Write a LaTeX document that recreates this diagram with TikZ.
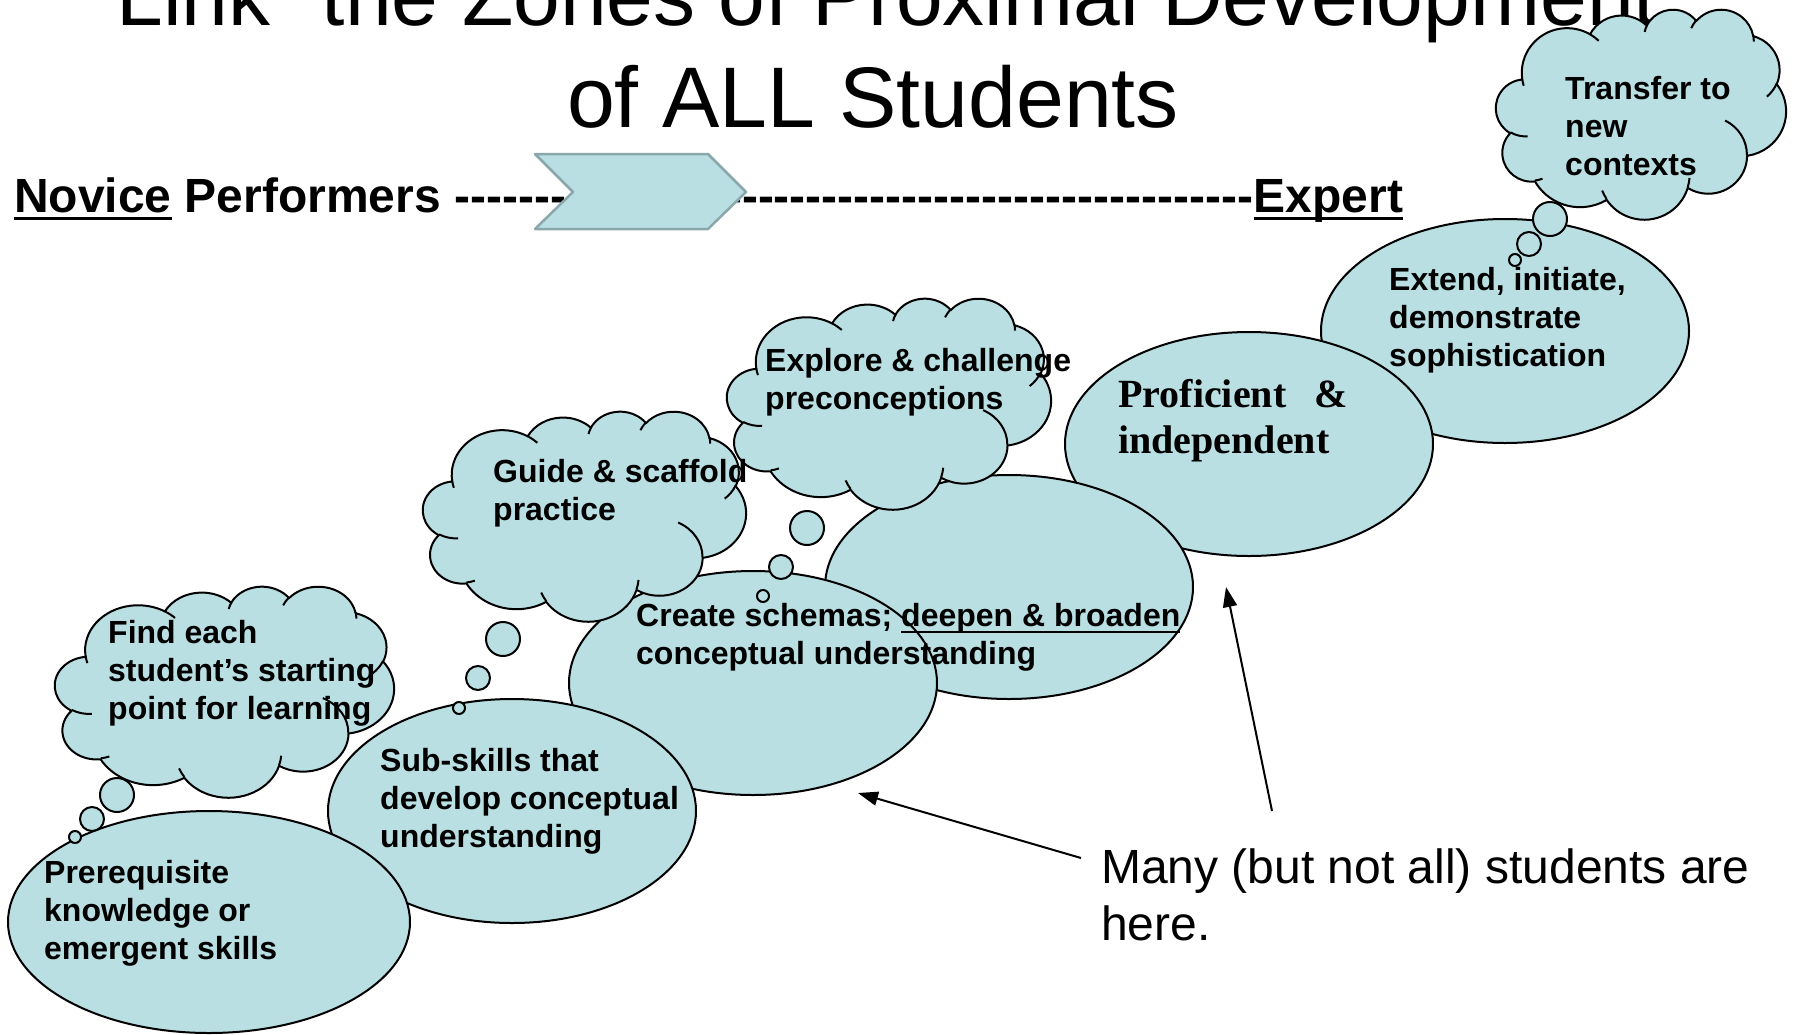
\documentclass[tikz,border=0pt]{standalone}
\usepackage{fontspec}
\setmainfont{Liberation Sans}
\newfontfamily\serifface{Liberation Serif}
\usetikzlibrary{shapes.geometric,arrows.meta}

\definecolor{bubble}{RGB}{185,223,227}
\definecolor{chevedge}{RGB}{138,168,171}

% multi-line text whose reference point is the first baseline
\newcommand\lines[2][l]{\begin{tabular}[t]{@{}#1@{}}#2\end{tabular}}
% thick underline: raise, thickness, text
\newsavebox\ulbox
\newcommand\undl[3]{\sbox\ulbox{#3}\rlap{\rule[#1]{\wd\ulbox}{#2}}\usebox\ulbox}
% a row of separate hyphens
\newcommand\hyphenrow[1]{\foreach \k in {1,...,#1}{\mbox{-}}}

\tikzset{
  blob/.style={ellipse, draw=black, fill=bubble, line width=2pt, inner sep=0pt,
    minimum width=368pt, minimum height=224pt},
  puff/.style={draw=black, fill=bubble, line width=2pt, line join=round},
  hook/.style={draw=black, line width=2pt},
  boxtext/.style={anchor=base west, inner sep=0pt, font=\fontsize{32}{38}\selectfont\bfseries},
  pointer/.style={draw=black, line width=2pt, -{Triangle[length=20pt,width=14pt]}},
  % elliptic arc given by radii and visual start/sweep angles
  vis arc/.code args={#1/#2/#3/#4}{%
    \pgfmathsetmacro\cldA{atan2((#1)*sin(#3),(#2)*cos(#3))}%
    \pgfmathsetmacro\cldB{atan2((#1)*sin((#3)+(#4)),(#2)*cos((#3)+(#4)))}%
    \pgfmathsetmacro\cldD{mod(\cldB-(\cldA)+720,360)}%
    \edef\cldtmp{\noexpand\pgfkeysalso{x radius=#1,y radius=#2,start angle=\cldA,delta angle=\cldD}}%
    \cldtmp}
}

% cloud outline with its inner strokes; left, top, width, height
\newcommand\thoughtcloud[4]{%
  \begin{scope}[xshift=#1pt, yshift=-#2pt, x={(#3pt/432,0pt)}, y={(0pt,-#4pt/432)}]
    \filldraw[puff] (39.00,143.70)
      arc[vis arc=67.53/91.90/-190.48748/123.78053]
      arc[vis arc=53.33/72.67/-144.10238/89.94523]
      arc[vis arc=43.65/59.45/-145.80792/99.72302]
      arc[vis arc=48.57/65.95/-130.98607/117.24173]
      arc[vis arc=53.33/72.73/-78.70888/109.02692]
      arc[vis arc=67.75/92.20/-46.26725/130.269]
      arc[vis arc=57.85/78.67/0.62502/114.03333]
      arc[vis arc=67.52/92.15/22.4516/115.17255]
      arc[vis arc=77.20/105.43/66.24263/75.71102]
      arc[vis arc=43.60/59.18/-274.94208/146.73557]
      arc[vis arc=43.45/59.45/-246.8285/152.51885]
      -- cycle;
    \draw[hook]
      (46.93,261.77) arc[vis arc=43.45/59.45/86.742/26.4295]
      (69.28,348.99) arc[vis arc=43.60/59.18/73.61047/11.44747]
      (164.78,390.90) arc[vis arc=67.52/92.15/137.62415/14.0811]
      (288.27,347.51) arc[vis arc=67.52/92.15/6.45327/15.99835]
      (341.29,229.54) arc[vis arc=57.85/78.67/-70.29235/70.91737]
      (417.98,153.54) arc[vis arc=53.33/72.73/30.31803/27.7515]
      (383.24,54.26) arc[vis arc=48.57/65.95/-13.74433/14.8589]
      (290.78,39.52) arc[vis arc=48.57/65.95/-149.18145/18.19537]
      (221.41,47.20) arc[vis arc=43.65/59.45/-163.49427/17.68635]
      (140.00,51.92) arc[vis arc=67.53/91.90/-66.70695/12.31935]
      (41.27,157.89) arc[vis arc=67.53/91.90/157.65435/11.85817];
  \end{scope}}

\begin{document}
\begin{tikzpicture}[x=1pt, y=-1pt]
  \useasboundingbox (0,0) rectangle (1796,1034);
  \clip (0,0) rectangle (1796,1034);
  \fill[white] (0,0) rectangle (1796,1034);

  % heading
  \node[anchor=base, inner sep=0pt, font=\fontsize{84}{102}\selectfont] (title) at (873,25)
    {\lines[c]{“Link” the Zones of Proximal Development\\\fontsize{86}{102}\selectfont of ALL Students}};

  % novice-to-expert scale
  \node[anchor=base west, inner sep=0pt, font=\fontsize{48}{57}\selectfont\bfseries] (scale) at (14,212)
    {\undl{-8pt}{3.5pt}{Novice} Performers \hyphenrow{50}\undl{-8pt}{3.5pt}{Expert}};
  \filldraw[fill=bubble, draw=chevedge, line width=2.5pt, line join=round]
    (535,154) -- (708,154) -- (746,192) -- (708,229) -- (535,229) -- (573,192) -- cycle;

  % stages, upper ones first so lower ones overlap them
  \node[blob] (extend)     at (1505,331) {};
  \node[blob] (proficient) at (1249,444) {};
  \node[blob] (deepen)     at (1009,587) {};
  \node[blob] (schemas)    at (753,683) {};
  \node[blob] (subskills)  at (512,811) {};
  \node[blob, minimum width=402pt, minimum height=222pt] (prereq) at (209,922) {};

  % thought clouds with their trailing bubbles
  \thoughtcloud{55}{586}{339}{211}
  \filldraw[puff] (117,795) circle[radius=17] (92,819) circle[radius=12] (75,837) circle[radius=6];
  \thoughtcloud{423}{411}{323}{210}
  \filldraw[puff] (503,639) circle[radius=17] (478,678) circle[radius=12] (459,708) circle[radius=6];
  \thoughtcloud{727}{298}{324}{211}
  \filldraw[puff] (807,528) circle[radius=17] (781,567) circle[radius=12] (763,596) circle[radius=6];
  \thoughtcloud{1496}{9}{290}{210}
  \filldraw[puff] (1550,219) circle[radius=17] (1529,244) circle[radius=12] (1515,260) circle[radius=6];

  % labels
  \node[boxtext] (prereqtext) at (44,883) {\lines{Prerequisite\\knowledge or\\emergent skills}};
  \node[boxtext] (subtext) at (380,771) {\lines{Sub-skills that\\develop conceptual\\understanding}};
  \node[boxtext] (schematext) at (636,626)
    {\lines{Create schemas; \undl{-7pt}{2.5pt}{deepen \& broaden}\\conceptual understanding}};
  \node[anchor=base west, inner sep=0pt, font=\fontsize{40}{46}\selectfont\serifface\bfseries] (proftext) at (1118,407)
    {\lines{Proficient\hspace{28pt}\&\\independent}};
  \node[boxtext] (extendtext) at (1389,290) {\lines{Extend, initiate,\\demonstrate\\sophistication}};
  \node[boxtext] (findtext) at (108,643) {\lines{Find each\\student’s starting\\point for learning}};
  \node[boxtext] (guidetext) at (493,482) {\lines{Guide \& scaffold\\practice}};
  \node[boxtext] (exploretext) at (765,371) {\lines{Explore \& challenge\\preconceptions}};
  \node[boxtext] (transfertext) at (1565,99) {\lines{Transfer to\\new\\contexts}};

  % note with its two pointers
  \node[anchor=base west, inner sep=0pt, font=\fontsize{48}{57}\selectfont] (many) at (1101,883)
    {\lines{Many (but not all) students are\\here.}};
  \coordinate (tailA) at (1081,858);
  \coordinate (tipA) at (858,793);
  \coordinate (tailB) at (1272,811);
  \coordinate (tipB) at (1226,587);
  \draw[pointer] (tailA) -- (tipA);
  \draw[pointer] (tailB) -- (tipB);
\end{tikzpicture}
\end{document}
